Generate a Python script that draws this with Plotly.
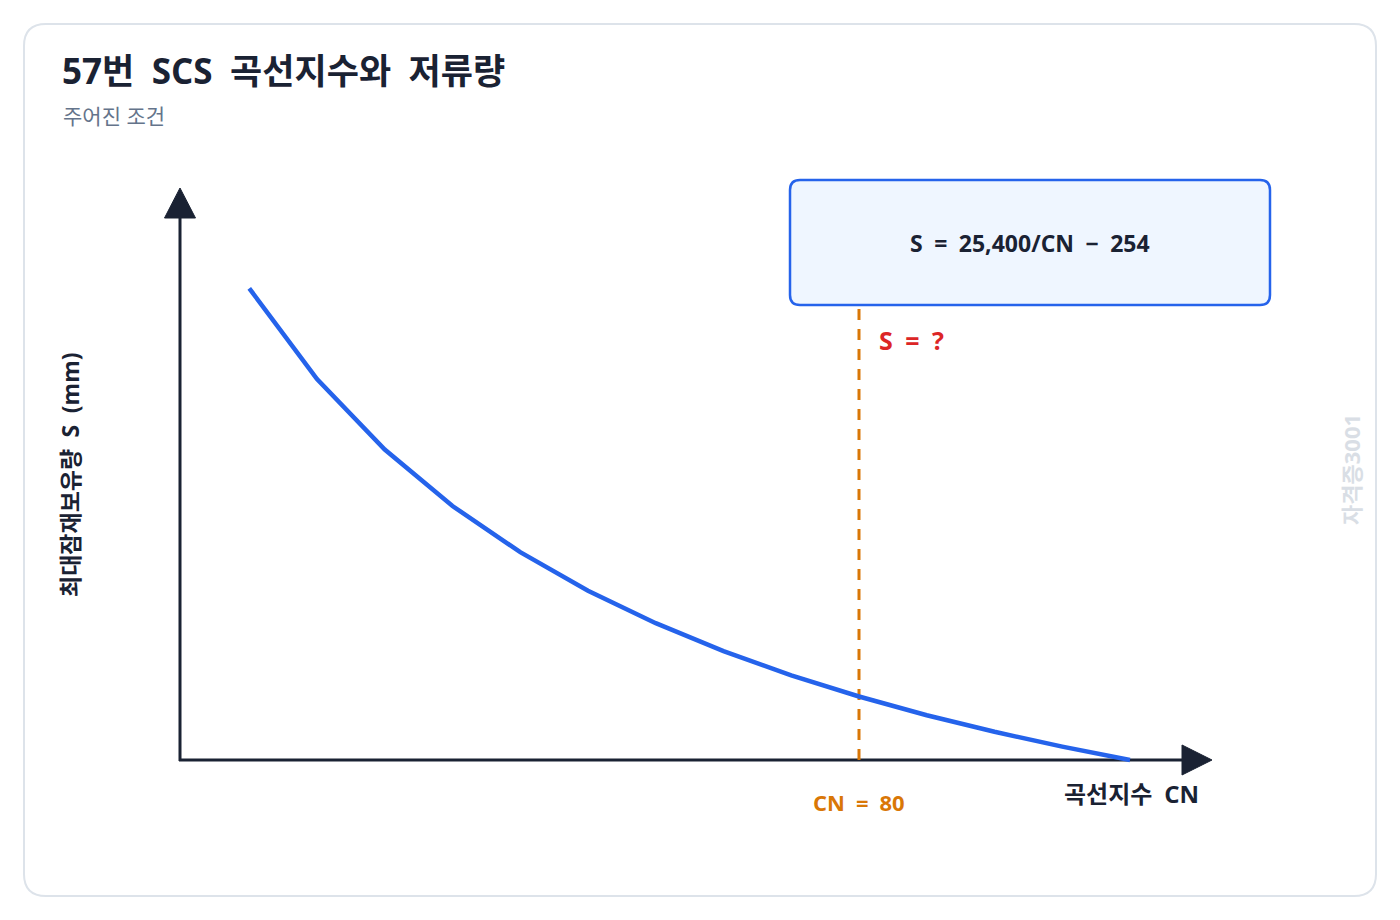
import plotly.graph_objects as go

# ---- data ----
cn_values = [35, 40, 45, 50, 55, 60, 65, 70, 75, 80, 85, 90, 95, 100]
s_values = [471.7, 381.0, 310.4, 254.0, 207.8, 169.3, 136.8, 108.9, 84.7, 63.5, 44.8, 28.2, 13.4, 0.0]
given_cn = 80

SP = "\u2002"  # en space, to mimic the wide word spacing of the original
title_text = f"57번{SP}SCS{SP}곡선지수와{SP}저류량"
subtitle_text = "주어진 조건"
formula_text = f"S{SP}={SP}25,400/CN{SP}−{SP}254"
unknown_text = f"S{SP}={SP}?"
given_text = f"CN{SP}={SP}80"
x_title = f"곡선지수{SP}CN"
y_title = f"최대잠재보유량{SP}S{SP}(mm)"
watermark = "자격증3001"

W, H = 1400, 920
FONT = "Open Sans, Noto Sans CJK KR"
DARK = "#1a2233"
BLUE = "#2563eb"
ORANGE = "#d97706"
RED = "#dc2626"

def px(x):
    return x / W

def py(y):
    return 1 - y / H

# data-axis mapping (CN 80 -> 859px, CN 100 -> 1130px; S 0 -> 760px, 1px per mm)
x_per = (1130 - 859) / 20.0
x0 = 80 - 859 / x_per
x1 = 80 + (W - 859) / x_per
y_per = 1.0
y_lo = -(H - 760) / y_per
y_hi = 760 / y_per

def rrect(xa, ya, xb, yb, r):
    def P(x, y):
        return f"{px(x):.5f},{py(y):.5f}"
    return (f"M {P(xa + r, ya)} L {P(xb - r, ya)} Q {P(xb, ya)} {P(xb, ya + r)} "
            f"L {P(xb, yb - r)} Q {P(xb, yb)} {P(xb - r, yb)} L {P(xa + r, yb)} "
            f"Q {P(xa, yb)} {P(xa, yb - r)} L {P(xa, ya + r)} Q {P(xa, ya)} {P(xa + r, ya)} Z")

def tri(p1, p2, p3):
    return "M " + " L ".join(f"{px(x):.5f},{py(y):.5f}" for x, y in (p1, p2, p3)) + " Z"

fig = go.Figure()
fig.add_trace(go.Scatter(x=cn_values, y=s_values, mode="lines",
                         line=dict(color=BLUE, width=4.5), hoverinfo="skip", showlegend=False))

shapes = [
    dict(type="path", xref="paper", yref="paper", path=rrect(24, 24, 1376, 896, 22),
         line=dict(color="#dde3ea", width=2), fillcolor="white", layer="below"),
    dict(type="line", xref="paper", yref="paper", x0=px(180), x1=px(180), y0=py(761), y1=py(215),
         line=dict(color=DARK, width=3), layer="below"),
    dict(type="path", xref="paper", yref="paper", path=tri((180, 188), (164.5, 218), (195.5, 218)),
         line=dict(color=DARK, width=1), fillcolor=DARK, layer="below"),
    dict(type="line", xref="paper", yref="paper", x0=px(179), x1=px(1185), y0=py(760), y1=py(760),
         line=dict(color=DARK, width=3), layer="below"),
    dict(type="path", xref="paper", yref="paper", path=tri((1212, 760), (1182, 745), (1182, 775)),
         line=dict(color=DARK, width=1), fillcolor=DARK, layer="below"),
    dict(type="line", xref="x", yref="paper", x0=given_cn, x1=given_cn, y0=py(309), y1=py(760),
         line=dict(color=ORANGE, width=3, dash="11px,9px"), layer="below"),
    dict(type="path", xref="paper", yref="paper", path=rrect(790, 180, 1270, 305, 10),
         line=dict(color=BLUE, width=2.5), fillcolor="#eff6ff", layer="above"),
]

annotations = [
    dict(text=f"<b>{title_text}</b>", x=px(60), y=py(70), xref="paper", yref="paper",
         xanchor="left", yanchor="middle", showarrow=False,
         font=dict(family=FONT, size=35, color=DARK)),
    dict(text=subtitle_text, x=px(61), y=py(116), xref="paper", yref="paper",
         xanchor="left", yanchor="middle", showarrow=False,
         font=dict(family=FONT, size=21, color="#64748b")),
    dict(text=f"<b>{formula_text}</b>", x=px(1030), y=py(243), xref="paper", yref="paper",
         xanchor="center", yanchor="middle", showarrow=False,
         font=dict(family=FONT, size=23, color=DARK)),
    dict(text=f"<b>{unknown_text}</b>", x=px(877), y=py(340), xref="paper", yref="paper",
         xanchor="left", yanchor="middle", showarrow=False,
         font=dict(family=FONT, size=25, color=RED)),
    dict(text=f"<b>{given_text}</b>", x=given_cn, y=py(802), xref="x", yref="paper",
         xanchor="center", yanchor="middle", showarrow=False,
         font=dict(family=FONT, size=22, color=ORANGE)),
    dict(text=f"<b>{x_title}</b>", x=px(1131), y=py(793), xref="paper", yref="paper",
         xanchor="center", yanchor="middle", showarrow=False,
         font=dict(family=FONT, size=24, color=DARK)),
    dict(text=f"<b>{y_title}</b>", x=px(70), y=py(475), xref="paper", yref="paper",
         xanchor="center", yanchor="middle", showarrow=False, textangle=-90,
         font=dict(family=FONT, size=23, color=DARK)),
    dict(text=f"<b>{watermark}</b>", x=px(1351), y=py(470), xref="paper", yref="paper",
         xanchor="center", yanchor="middle", showarrow=False, textangle=-90,
         font=dict(family=FONT, size=22, color="#d9dee5")),
]

fig.update_layout(
    width=W, height=H,
    margin=dict(l=0, r=0, t=0, b=0),
    paper_bgcolor="white", plot_bgcolor="rgba(0,0,0,0)",
    xaxis=dict(range=[x0, x1], visible=False, domain=[0, 1], fixedrange=True),
    yaxis=dict(range=[y_lo, y_hi], visible=False, domain=[0, 1], fixedrange=True),
    shapes=shapes, annotations=annotations, showlegend=False,
    font=dict(family=FONT),
)

fig.write_html("out.html", config={"displayModeBar": False},
               post_script="document.body.style.margin='0';document.body.style.overflow='hidden';")
